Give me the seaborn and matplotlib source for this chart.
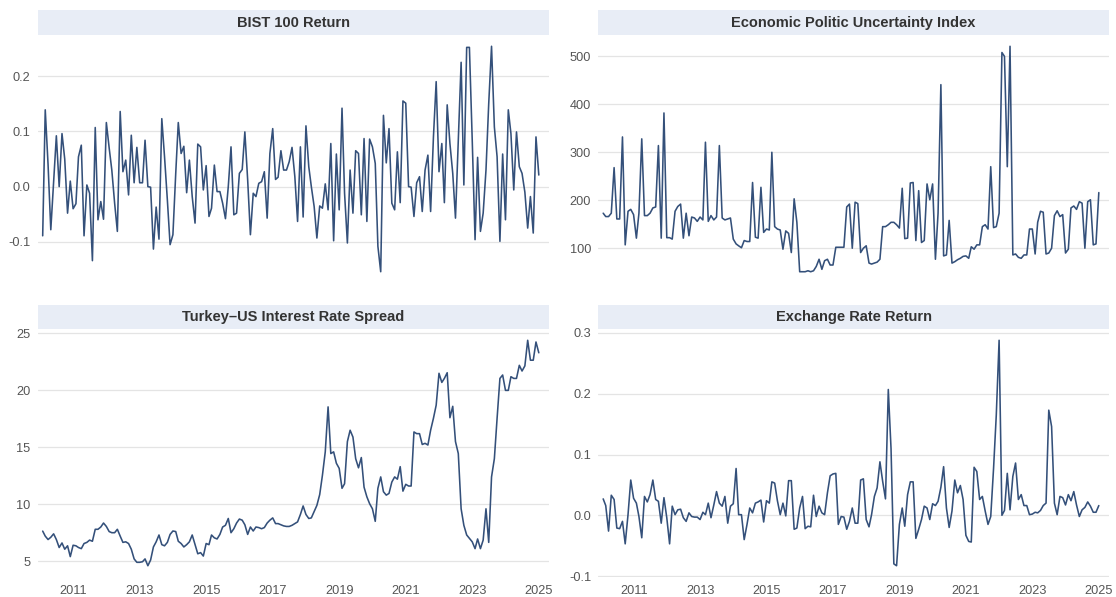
import numpy as np
import pandas as pd
import matplotlib
matplotlib.use("Agg")
import matplotlib.pyplot as plt
from matplotlib.ticker import MultipleLocator, FormatStrFormatter
import seaborn as sns

# Monthly observations, Jan 2010 - Dec 2024
dates = pd.date_range("2010-01-31", periods=180, freq="ME")

bist_return = [
    -0.089, 0.139, 0.040, -0.078, 0.010, 0.092, 0.000, 0.096, 0.050, -0.048,
    0.010, -0.040, -0.031, 0.054, 0.075, -0.089, 0.003, -0.012, -0.134, 0.107,
    -0.060, -0.027, -0.059, 0.116, 0.070, 0.030, -0.030, -0.081, 0.136, 0.027,
    0.048, -0.015, 0.093, 0.007, 0.071, 0.007, 0.007, 0.084, 0.000, -0.001,
    -0.113, -0.037, -0.095, 0.123, 0.054, -0.024, -0.105, -0.087, 0.024, 0.116,
    0.060, 0.073, -0.011, 0.048, -0.018, -0.066, 0.077, 0.072, -0.006, 0.038,
    -0.054, -0.039, 0.039, -0.009, -0.009, -0.030, -0.058, 0.000, 0.072, -0.051,
    -0.048, 0.024, 0.031, 0.099, 0.012, -0.087, -0.012, -0.018, 0.006, 0.009,
    0.027, -0.057, 0.060, 0.105, 0.013, 0.017, 0.065, 0.030, 0.030, 0.045,
    0.071, 0.018, -0.063, 0.072, -0.055, 0.110, 0.036, 0.000, -0.036, -0.093,
    -0.035, -0.039, 0.005, -0.042, 0.078, -0.098, 0.059, -0.042, 0.142, -0.012,
    -0.102, 0.030, -0.048, 0.065, 0.060, -0.051, 0.087, -0.063, 0.086, 0.072,
    0.042, -0.108, -0.154, 0.129, 0.043, 0.105, -0.030, -0.042, 0.063, -0.029,
    0.155, 0.151, 0.000, -0.001, -0.054, 0.007, 0.018, -0.045, 0.030, 0.057,
    -0.045, 0.090, 0.190, 0.027, 0.078, -0.029, 0.148, 0.078, 0.024, -0.057,
    0.084, 0.225, 0.003, 0.252, 0.252, 0.084, -0.096, 0.053, -0.081, -0.048,
    0.030, 0.150, 0.254, 0.108, 0.054, -0.099, 0.059, -0.060, 0.139, 0.096,
    -0.006, 0.099, 0.036, 0.024, -0.010, -0.075, -0.018, -0.084, 0.090, 0.021,
]

epu_index = [
    173, 166, 166, 173, 268, 161, 161, 332, 107, 177,
    181, 170, 121, 173, 328, 168, 168, 173, 184, 186,
    314, 121, 382, 122, 122, 119, 177, 187, 192, 121,
    173, 126, 165, 163, 156, 165, 159, 321, 156, 168,
    159, 165, 314, 163, 159, 161, 163, 119, 109, 105,
    101, 116, 114, 114, 237, 123, 121, 227, 133, 140,
    138, 300, 145, 140, 138, 98, 136, 131, 91, 203,
    154, 51, 51, 51, 53, 51, 53, 62, 77, 56,
    74, 77, 65, 65, 102, 102, 102, 102, 186, 192,
    100, 196, 193, 91, 100, 105, 69, 67, 69, 71,
    77, 145, 145, 149, 154, 154, 149, 142, 225, 120,
    121, 236, 237, 116, 220, 112, 116, 234, 201, 234,
    77, 173, 441, 84, 86, 158, 69, 72, 76, 79,
    83, 84, 79, 103, 98, 107, 107, 145, 149, 140,
    270, 143, 145, 173, 508, 500, 270, 521, 86, 88,
    81, 79, 86, 86, 140, 140, 88, 154, 177, 175,
    88, 90, 100, 168, 178, 166, 170, 90, 98, 184,
    188, 181, 197, 194, 100, 197, 201, 107, 109, 216,
]

rate_spread = [
    7.64, 7.2, 6.9, 7.1, 7.4, 6.9, 6.2, 6.6, 6.05, 6.35,
    5.4, 6.4, 6.35, 6.2, 6.1, 6.55, 6.65, 6.85, 6.75, 7.8,
    7.8, 8.0, 8.35, 8.05, 7.6, 7.5, 7.5, 7.8, 7.2, 6.65,
    6.7, 6.55, 6.05, 5.2, 4.9, 4.9, 4.95, 5.2, 4.6, 5.1,
    6.25, 6.7, 7.3, 6.45, 6.35, 6.65, 7.35, 7.65, 7.6, 6.75,
    6.55, 6.25, 6.45, 6.7, 7.3, 6.45, 5.65, 5.75, 5.45, 6.55,
    6.45, 7.3, 7.05, 6.95, 7.35, 8.0, 8.15, 8.75, 7.5, 7.85,
    8.35, 8.7, 8.6, 8.2, 7.35, 8.0, 7.65, 8.0, 7.95, 7.85,
    7.95, 8.35, 8.6, 8.8, 8.3, 8.3, 8.2, 8.1, 8.05, 8.05,
    8.15, 8.3, 8.45, 9.1, 9.85, 9.1, 8.75, 8.8, 9.35, 9.9,
    10.85, 12.55, 14.6, 18.55, 14.45, 14.6, 13.6, 13.15, 11.4, 11.8,
    15.5, 16.5, 15.9, 14.0, 13.2, 14.1, 11.5, 10.65, 10.05, 9.6,
    8.5, 11.4, 12.4, 11.1, 10.8, 10.95, 11.95, 12.4, 12.2, 13.3,
    11.15, 11.75, 11.6, 11.6, 16.35, 16.2, 16.2, 15.25, 15.35, 15.2,
    16.5, 17.55, 18.7, 21.5, 20.7, 21.05, 21.55, 17.6, 18.6, 15.5,
    14.45, 9.6, 8.15, 7.3, 7.0, 6.7, 6.1, 6.95, 6.1, 6.85,
    9.6, 6.65, 12.4, 14.0, 17.55, 21.05, 21.35, 20.0, 20.0, 21.2,
    21.05, 21.05, 22.2, 21.7, 22.15, 24.4, 22.65, 22.65, 24.25, 23.3,
]

fx_return = [
    0.027, 0.016, -0.026, 0.033, 0.026, -0.021, -0.022, -0.010, -0.047, 0.001,
    0.058, 0.028, 0.020, -0.002, -0.037, 0.031, 0.022, 0.034, 0.058, 0.026,
    0.023, -0.013, 0.029, -0.004, -0.047, 0.015, 0.001, 0.009, 0.010, -0.004,
    -0.010, 0.004, -0.002, -0.003, -0.003, -0.007, 0.005, 0.001, 0.020, -0.004,
    0.017, 0.039, 0.020, 0.015, 0.031, -0.013, 0.015, 0.019, 0.077, 0.001,
    0.001, -0.040, -0.015, 0.012, 0.004, 0.020, 0.022, 0.025, -0.011, 0.024,
    0.020, 0.055, 0.053, 0.024, 0.001, 0.020, -0.001, 0.057, 0.057, -0.023,
    -0.021, 0.012, 0.031, -0.022, -0.018, -0.019, 0.033, -0.002, 0.015, 0.004,
    0.001, 0.037, 0.065, 0.068, 0.069, -0.015, -0.002, -0.003, -0.023, -0.010,
    0.012, -0.013, -0.013, 0.058, 0.060, -0.007, -0.019, 0.001, 0.031, 0.045,
    0.088, 0.056, 0.027, 0.207, 0.110, -0.080, -0.083, -0.015, 0.012, -0.018,
    0.034, 0.055, 0.055, -0.038, -0.023, -0.007, 0.015, 0.012, -0.007, 0.019,
    0.016, 0.023, 0.046, 0.080, 0.012, -0.020, 0.007, 0.058, 0.037, 0.049,
    0.026, -0.033, -0.043, -0.044, 0.079, 0.072, 0.026, 0.031, 0.007, -0.015,
    -0.002, 0.077, 0.165, 0.288, 0.000, 0.008, 0.069, 0.009, 0.064, 0.086,
    0.026, 0.034, 0.016, 0.016, 0.001, 0.002, 0.005, 0.004, 0.008, 0.016,
    0.020, 0.173, 0.146, 0.020, 0.001, 0.031, 0.029, 0.017, 0.034, 0.024,
    0.039, 0.017, -0.002, 0.009, 0.013, 0.022, 0.015, 0.005, 0.005, 0.016,
]

panel_titles = [
    "BIST 100 Return",
    "Economic Politic Uncertainty Index",
    "Turkey\u2013US Interest Rate Spread",
    "Exchange Rate Return",
]
panel_values = [bist_return, epu_index, rate_spread, fx_return]
y_steps = [0.1, 100, 5, 0.1]
y_formats = ["%.1f", "%d", "%d", "%.1f"]
year_ticks = [2011, 2013, 2015, 2017, 2019, 2021, 2023, 2025]

long_df = pd.concat(
    [pd.DataFrame({"date": dates, "value": v, "series": t})
     for t, v in zip(panel_titles, panel_values)],
    ignore_index=True,
)

sns.set_theme(style="white")
plt.rcParams["font.family"] = ["Liberation Sans", "DejaVu Sans"]
plt.rcParams["axes.unicode_minus"] = False

LINE = "#34507a"
STRIP = "#e8edf6"
GRID = "#e4e4e4"
TICK = "#555555"

W, H = 1116, 597
fig = plt.figure(figsize=(W / 100, H / 100), dpi=100)


def frac_box(x0, y0, x1, y1):
    return [x0 / W, 1 - y1 / H, (x1 - x0) / W, (y1 - y0) / H]


col_spans = [(37.5, 549), (598, 1109)]
row_spans = [(10, 35, 283), (305, 329, 577)]  # strip top, panel top, panel bottom

x_lo = pd.Timestamp("2009-12-05")
x_hi = pd.Timestamp("2025-04-22")

for k, title in enumerate(panel_titles):
    r, c = divmod(k, 2)
    x0, x1 = col_spans[c]
    s_top, p_top, p_bot = row_spans[r]

    ax = fig.add_axes(frac_box(x0, p_top, x1, p_bot))
    sub = long_df[long_df["series"] == title]
    sns.lineplot(data=sub, x="date", y="value", ax=ax, color=LINE,
                 linewidth=1.15, estimator=None)

    vals = np.asarray(panel_values[k], dtype=float)
    span = vals.max() - vals.min()
    ax.set_ylim(vals.min() - 0.05 * span, vals.max() + 0.05 * span)
    ax.set_xlim(x_lo, x_hi)
    ax.yaxis.set_major_locator(MultipleLocator(y_steps[k]))
    ax.yaxis.set_major_formatter(FormatStrFormatter(y_formats[k]))
    ax.set_xticks(pd.to_datetime([f"{y}-01-01" for y in year_ticks]))
    if r == 1:
        ax.set_xticklabels([str(y) for y in year_ticks])
    else:
        ax.set_xticklabels([])

    ax.grid(axis="y", color=GRID, linewidth=0.9)
    ax.grid(axis="x", visible=False)
    for sp in ax.spines.values():
        sp.set_visible(False)
    ax.tick_params(axis="both", length=0, labelsize=9.2, colors=TICK)
    ax.tick_params(axis="y", pad=5)
    ax.tick_params(axis="x", pad=6)
    ax.set_xlabel("")
    ax.set_ylabel("")

    sax = fig.add_axes(frac_box(x0, s_top, x1, p_top))
    sax.set_facecolor(STRIP)
    sax.set_xticks([])
    sax.set_yticks([])
    for sp in sax.spines.values():
        sp.set_visible(False)
    sax.text(0.5, 0.48, title, ha="center", va="center", fontsize=10.5,
             fontweight="bold", color="#333333", transform=sax.transAxes)

fig.savefig("out.png", dpi=100, facecolor="white")
